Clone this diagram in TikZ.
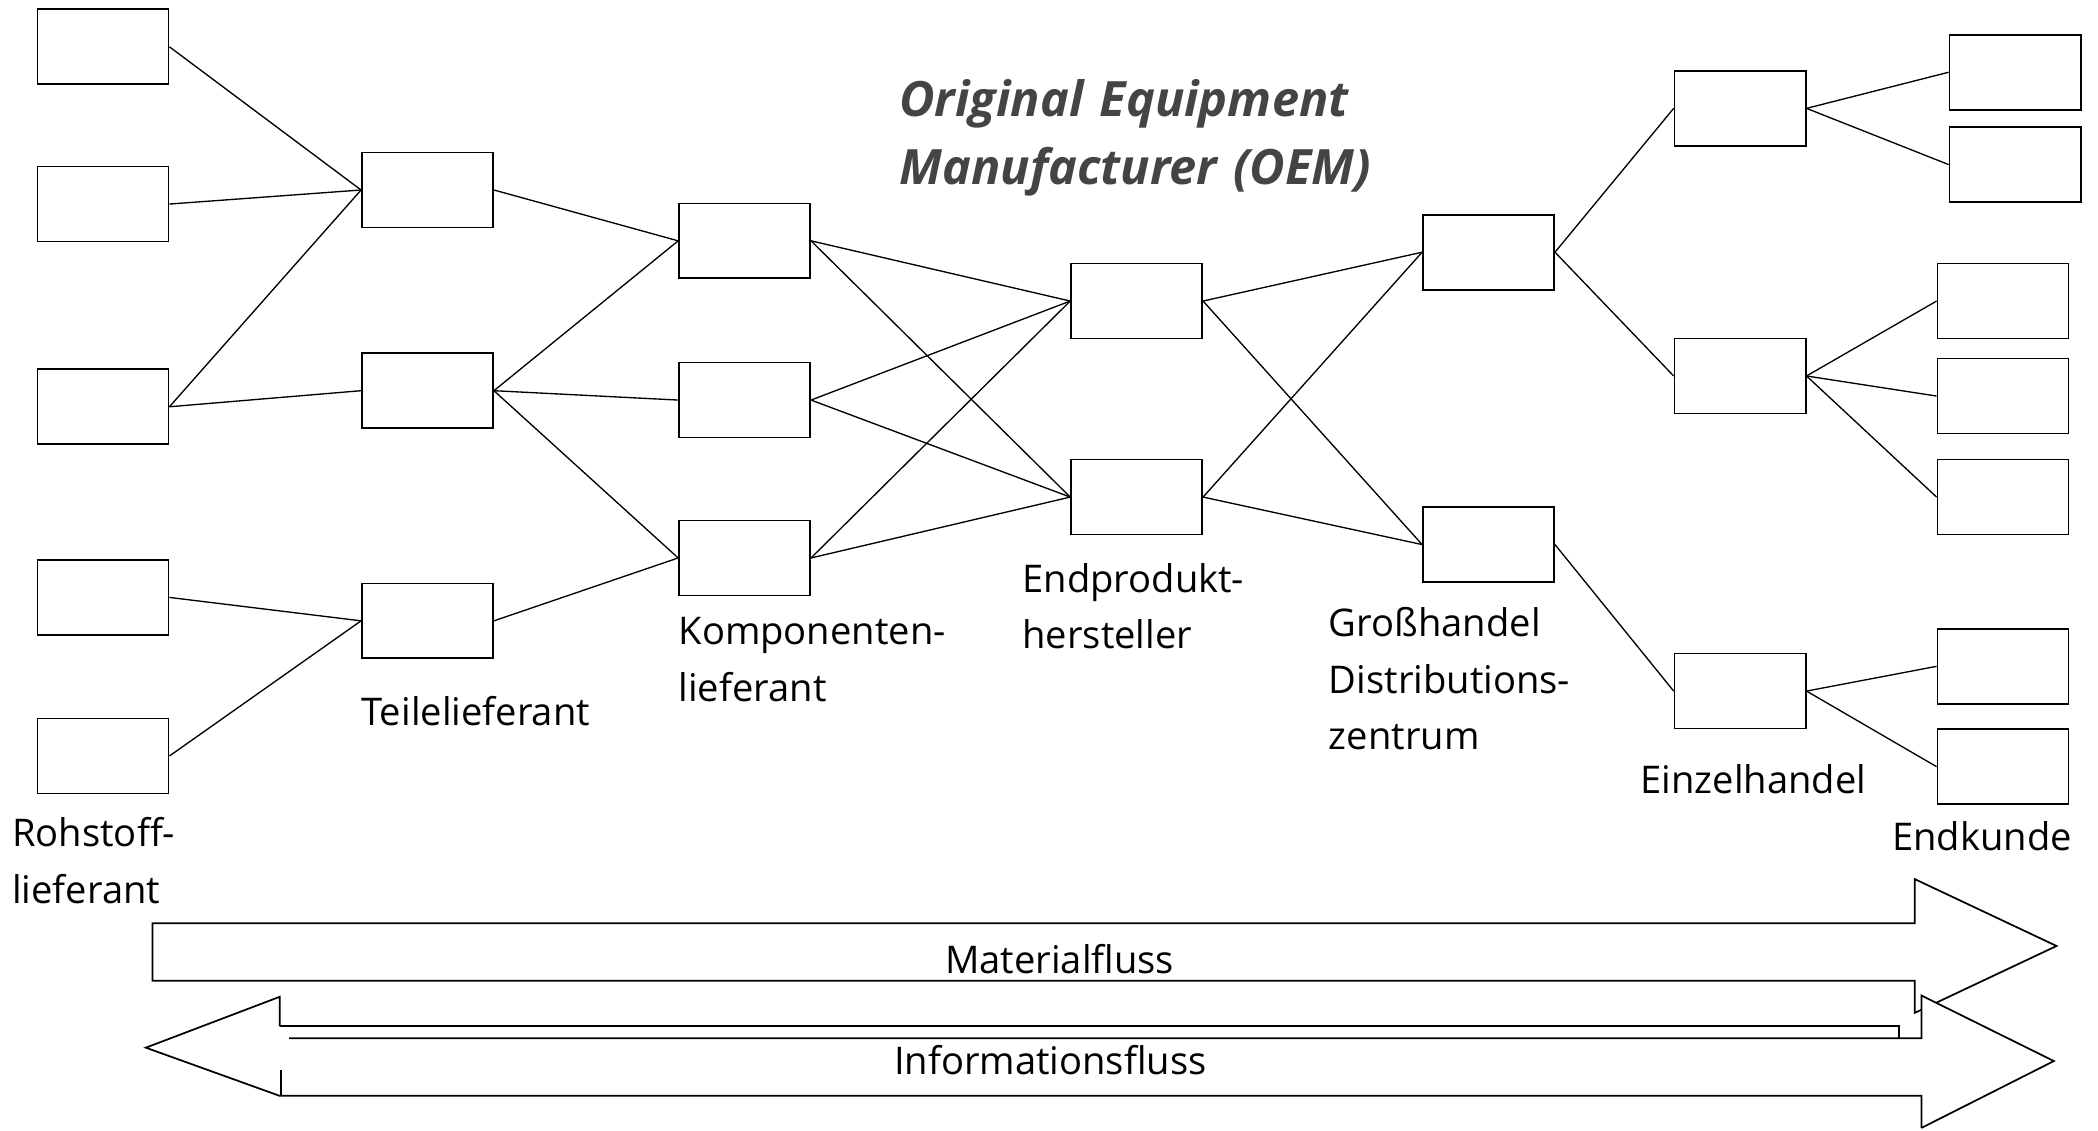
\documentclass[tikz,border=0pt]{standalone}
\usepackage{fontspec}
\setmainfont{Open Sans}
\definecolor{titlegray}{HTML}{444444}
\begin{document}
\begin{tikzpicture}[x=1pt,y=-1pt,
  box/.style={draw, line width=1.3pt, minimum width=98pt, minimum height=56pt, inner sep=0pt},
  link/.style={line width=1pt},
  flow/.style={line width=1.3pt},
  lbl/.style={anchor=base west, inner sep=0pt, text width=320pt, align=left,
    font=\fontsize{28.5}{42}\selectfont},
  flowlbl/.style={inner sep=0pt, font=\fontsize{28.5}{34}\selectfont},
  title/.style={anchor=base west, inner sep=0pt, text width=420pt, align=left,
    text=titlegray, font=\fontsize{36.4}{51}\selectfont\bfseries\itshape}]
\useasboundingbox (0,0) rectangle (1568,845);

% raw material suppliers
\node[box] (a1) at (77,35) {};
\node[box] (a2) at (77,152.5) {};
\node[box] (a3) at (77,304) {};
\node[box] (a4) at (77,446.5) {};
\node[box] (a5) at (77,565) {};
% part suppliers
\node[box] (b1) at (319.5,142) {};
\node[box] (b2) at (319.5,292) {};
\node[box] (b3) at (319.5,464) {};
% component suppliers
\node[box] (c1) at (556.5,180) {};
\node[box] (c2) at (556.5,299) {};
\node[box] (c3) at (556.5,417) {};
% end product manufacturers
\node[box] (d1) at (849.5,225) {};
\node[box] (d2) at (849.5,371.5) {};
% wholesale
\node[box] (e1) at (1112.5,188.5) {};
\node[box] (e2) at (1112.5,407) {};
% retail
\node[box] (f1) at (1300.5,81) {};
\node[box] (f2) at (1300.5,281) {};
\node[box] (f3) at (1300.5,516.5) {};
% end customers
\node[box] (g1) at (1506,54) {};
\node[box] (g2) at (1506,123) {};
\node[box] (g3) at (1497,225) {};
\node[box] (g4) at (1497,296) {};
\node[box] (g5) at (1497,371.5) {};
\node[box] (g6) at (1497,498) {};
\node[box] (g7) at (1497,573) {};

% connections
\foreach \s/\t in {a1/b1,a2/b1,a3/b1,a3/b2,a4/b3,a5/b3,
                   b1/c1,b2/c1,b2/c2,b2/c3,b3/c3,
                   c1/d1,c1/d2,c2/d1,c2/d2,c3/d1,c3/d2,
                   d1/e1,d1/e2,d2/e1,d2/e2,
                   e1/f1,e1/f2,e2/f3,
                   f1/g1,f1/g2,f2/g3,f2/g4,f2/g5,f3/g6,f3/g7}
  \draw[link] (\s.east) -- (\t.west);

% stage labels
\node[lbl] (lrohstoff) at (9,633) {Rohstoff-\\lieferant};
\node[lbl] (lteile) at (270,542) {Teilelieferant};
\node[lbl] (lkomp) at (507,482) {Komponenten-\\lieferant};
\node[lbl] (lend) at (764,443) {Endprodukt-\\hersteller};
\node[lbl] (lgross) at (993,476) {Großhandel\\Distributions-\\zentrum};
\node[lbl] (leinzel) at (1226,593) {Einzelhandel};
\node[lbl] (lkunde) at (1414,636) {Endkunde};
\node[title] (oem) at (672,87) {Original Equipment\\Manufacturer (OEM)};

% material flow arrow
\draw[flow, fill=white] (114,690) -- (1431,690) -- (1431,657) -- (1537,707)
  -- (1431,757) -- (1431,733) -- (114,733) -- cycle;
\node[flowlbl] (lmat) at (792,717) {Materialfluss};

% information flow arrow (both directions)
\fill[white] (1436,744) -- (1535,793) -- (1436,843) -- cycle;
\draw[flow] (209,767) -- (209,745) -- (109,783) -- (209,819) -- (1436,819) -- (1436,843);
\draw[flow] (209,767) -- (1419,767) -- (1419,776);
\draw[flow] (216,776) -- (1436,776) -- (1436,744) -- (1535,793) -- (1436,843);
\draw[flow] (210,800) -- (210,819);
\node[flowlbl] (linfo) at (785,792) {Informationsfluss};
\end{tikzpicture}
\end{document}
